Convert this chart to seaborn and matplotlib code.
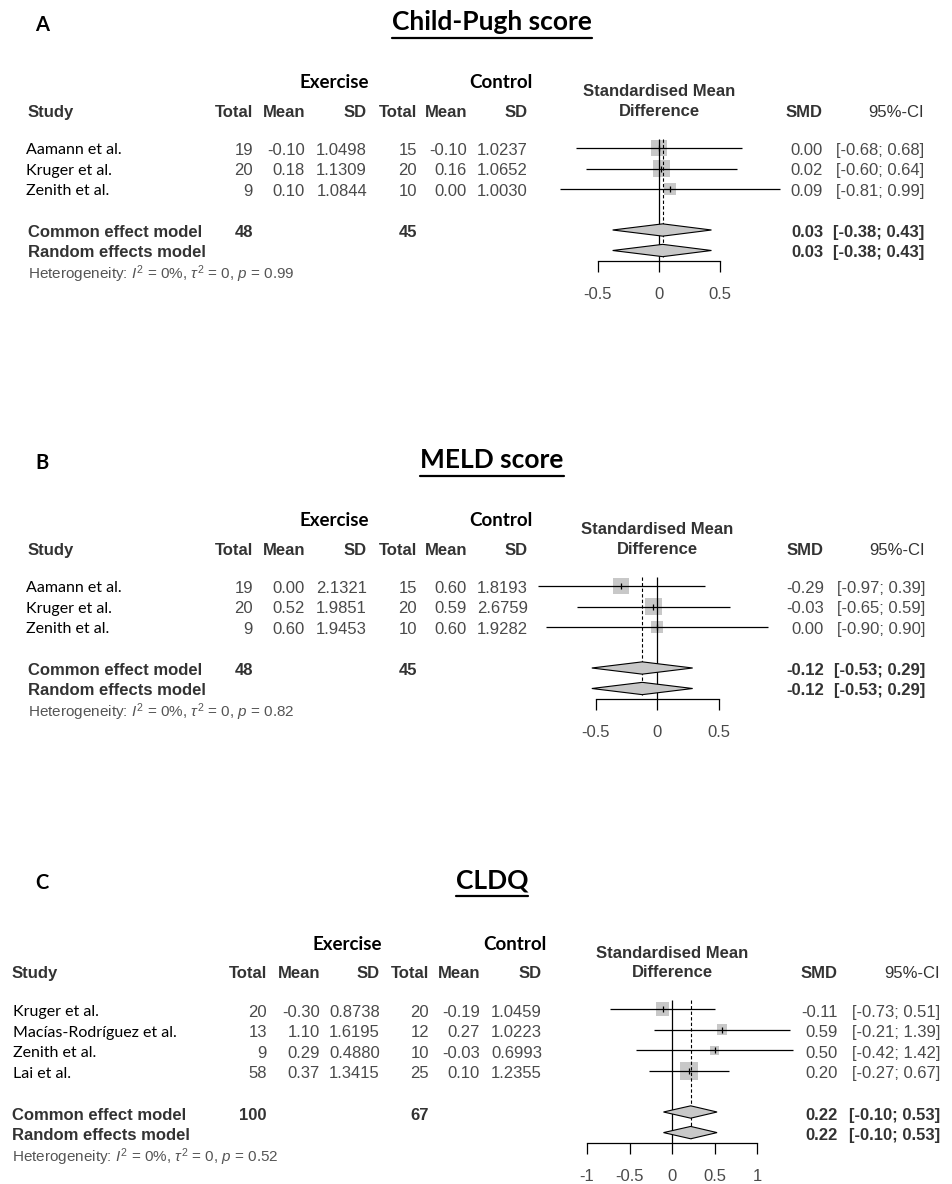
import matplotlib
matplotlib.use('Agg')
import numpy as np
import pandas as pd
import matplotlib.pyplot as plt
import matplotlib.transforms as mtransforms
from matplotlib.lines import Line2D
import seaborn as sns

# ---- data: A Child-Pugh score ----
a_studies = ["Aamann et al.", "Kruger et al.", "Zenith et al."]
a_e_total = [19, 20, 9]
a_e_mean = [-0.10, 0.18, 0.10]
a_e_sd = [1.0498, 1.1309, 1.0844]
a_c_total = [15, 20, 10]
a_c_mean = [-0.10, 0.16, 0.00]
a_c_sd = [1.0237, 1.0652, 1.0030]
a_smd = [0.00, 0.02, 0.09]
a_lo = [-0.68, -0.60, -0.81]
a_hi = [0.68, 0.64, 0.99]
a_pooled = [0.03, -0.38, 0.43]
a_sums = [48, 45]
a_pval = "0.99"

# ---- data: B MELD score ----
b_studies = ["Aamann et al.", "Kruger et al.", "Zenith et al."]
b_e_total = [19, 20, 9]
b_e_mean = [0.00, 0.52, 0.60]
b_e_sd = [2.1321, 1.9851, 1.9453]
b_c_total = [15, 20, 10]
b_c_mean = [0.60, 0.59, 0.60]
b_c_sd = [1.8193, 2.6759, 1.9282]
b_smd = [-0.29, -0.03, 0.00]
b_lo = [-0.97, -0.65, -0.90]
b_hi = [0.39, 0.59, 0.90]
b_pooled = [-0.12, -0.53, 0.29]
b_sums = [48, 45]
b_pval = "0.82"

# ---- data: C CLDQ ----
c_studies = ["Kruger et al.", "Macías-Rodríguez et al.", "Zenith et al.", "Lai et al."]
c_e_total = [20, 13, 9, 58]
c_e_mean = [-0.30, 1.10, 0.29, 0.37]
c_e_sd = [0.8738, 1.6195, 0.4880, 1.3415]
c_c_total = [20, 12, 10, 25]
c_c_mean = [-0.19, 0.27, -0.03, 0.10]
c_c_sd = [1.0459, 1.0223, 0.6993, 1.2355]
c_smd = [-0.11, 0.59, 0.50, 0.20]
c_lo = [-0.73, -0.21, -0.42, -0.27]
c_hi = [0.51, 1.39, 1.42, 0.67]
c_pooled = [0.22, -0.10, 0.53]
c_sums = [100, 67]
c_pval = "0.52"

sns.set_theme(style="white")
plt.rcParams['font.family'] = ['Liberation Sans', 'DejaVu Sans']
plt.rcParams['mathtext.fontset'] = 'custom'
plt.rcParams['mathtext.rm'] = 'Liberation Sans'
plt.rcParams['mathtext.it'] = 'Liberation Sans:italic'

W, H = 952, 1184
fig = plt.figure(figsize=(W / 100, H / 100), dpi=100)
fig.patch.set_facecolor('white')

NUM = '#4a4a4a'
HEAD = '#333333'
BOX = '#c8c8c8'


def draw_panel(letter, title, title_y, studies, e_total, e_mean, e_sd, c_total, c_mean, c_sd,
               smd, lo, hi, pooled, sums, pval, y0, dy, zero, scale, cols, name_x, head_x,
               smd_r, ci_r, ticks, ticklabels, toff):
    n = len(studies)
    rows = np.arange(n)
    common_y, random_y = n + 1, n + 2
    axis_y = n + 2.5

    # forest axes placed in pixel layout
    left_px, right_px = 530, 800
    top_px, bot_px = y0 - 4 * dy, y0 + (n + 5) * dy
    ax = fig.add_axes([left_px / W, 1 - bot_px / H, (right_px - left_px) / W, (bot_px - top_px) / H])
    ax.set_xlim((left_px - zero) / scale, (right_px - zero) / scale)
    ax.set_ylim(n + 5, -4)
    ax.patch.set_alpha(0)
    for s in ['top', 'right', 'left']:
        ax.spines[s].set_visible(False)
    ax.spines['bottom'].set_position(('data', axis_y))
    ax.spines['bottom'].set_bounds(ticks[0], ticks[-1])
    ax.spines['bottom'].set_color('black')
    ax.spines['bottom'].set_linewidth(0.9)
    ax.set_xticks(ticks)
    ax.set_xticklabels(ticklabels)
    ax.set_yticks([])
    ax.tick_params(axis='x', bottom=True, direction='out', length=8, width=0.9, color='black',
                   pad=11, labelsize=12, labelcolor=NUM)

    # study weights (inverse variance from CI)
    se = (np.array(hi) - np.array(lo)) / (2 * 1.96)
    w = 1 / se ** 2
    side_pt = 17.5 * np.sqrt(w / w.max()) * 0.72
    df = pd.DataFrame({'smd': smd, 'row': rows})
    sns.scatterplot(data=df, x='smd', y='row', marker='s', s=side_pt ** 2, color=BOX,
                    linewidth=0, ax=ax, zorder=1, legend=False)
    ax.hlines(rows, lo, hi, color='black', lw=0.9, zorder=2)
    sns.scatterplot(data=df, x='smd', y='row', marker='|', s=22, color='black',
                    linewidth=0.9, ax=ax, zorder=3, legend=False)

    ax.vlines(0, -0.45, axis_y, color='black', lw=0.9, zorder=2)
    ax.vlines(pooled[0], -0.45, random_y + 0.3, color='black', lw=0.8,
              linestyles=(0, (3, 2)), zorder=2)
    for yy in (common_y, random_y):
        ax.fill([pooled[1], pooled[0], pooled[2], pooled[0]], [yy, yy - 0.3, yy, yy + 0.3],
                facecolor=BOX, edgecolor='black', lw=0.8, zorder=4)
    ax.set_xlabel('')
    ax.set_ylabel('')

    tr = mtransforms.blended_transform_factory(fig.transFigure, ax.transData)

    def t(xpx, yy, s, **kw):
        kw.setdefault('va', 'center')
        kw.setdefault('fontsize', 12)
        ax.text(xpx / W, yy + toff, s, transform=tr, clip_on=False, **kw)

    # group headers
    t(cols[2] + 2, -3.3, "Exercise", ha='right', family='Lato', weight='bold', color='black',
      fontsize=13.5)
    t(cols[5] + 4, -3.3, "Control", ha='right', family='Lato', weight='bold', color='black',
      fontsize=13.5)
    # column headers
    t(head_x, -1.85, "Study", ha='left', weight='bold', color=HEAD)
    for xp, lab in zip(cols, ["Total", "Mean", "SD", "Total", "Mean", "SD"]):
        t(xp, -1.85, lab, ha='right', weight='bold', color=HEAD)
    t(zero, -2.85, "Standardised Mean", ha='center', weight='bold', color=HEAD)
    t(zero, -1.9, "Difference", ha='center', weight='bold', color=HEAD)
    t(smd_r, -1.85, "SMD", ha='right', weight='bold', color=HEAD)
    t(ci_r, -1.85, "95%-CI", ha='right', color=HEAD)

    # study rows
    for i in range(n):
        t(name_x, i, studies[i], ha='left', family='Lato', fontsize=11.5, color='black')
        vals = [f"{e_total[i]}", f"{e_mean[i]:.2f}", f"{e_sd[i]:.4f}",
                f"{c_total[i]}", f"{c_mean[i]:.2f}", f"{c_sd[i]:.4f}"]
        for xp, v in zip(cols, vals):
            t(xp, i, v, ha='right', color=NUM)
        t(smd_r, i, f"{smd[i]:.2f}", ha='right', color=NUM)
        t(ci_r, i, f"[{lo[i]:.2f}; {hi[i]:.2f}]", ha='right', color=NUM)

    # pooled rows
    t(head_x, common_y, "Common effect model", ha='left', weight='bold', color=HEAD)
    t(cols[0], common_y, f"{sums[0]}", ha='right', weight='bold', color=HEAD)
    t(cols[3], common_y, f"{sums[1]}", ha='right', weight='bold', color=HEAD)
    t(head_x, random_y, "Random effects model", ha='left', weight='bold', color=HEAD)
    for yy in (common_y, random_y):
        t(smd_r, yy, f"{pooled[0]:.2f}", ha='right', weight='bold', color=HEAD)
        t(ci_r, yy, f"[{pooled[1]:.2f}; {pooled[2]:.2f}]", ha='right', weight='bold', color=HEAD)
    t(head_x, random_y + 1.05,
      r"Heterogeneity: $I^2$ = 0%, $\tau^2$ = 0, $p$ = " + pval,
      ha='left', fontsize=11, color='#555555')

    # panel letter and title
    fig.text(35 / W, 1 - (title_y + 3) / H, letter, family='Lato', weight='bold',
             fontsize=14.5, ha='left', va='center', color='black')
    ttl = fig.text(492 / W, 1 - title_y / H, title, family='Lato', weight='bold',
                   fontsize=19, ha='center', va='center', color='black')
    return ttl


titles = []
titles.append((draw_panel("A", "Child-Pugh score", 22, a_studies, a_e_total, a_e_mean, a_e_sd,
                          a_c_total, a_c_mean, a_c_sd, a_smd, a_lo, a_hi, a_pooled, a_sums, a_pval,
                          148, 20.5, 659, 122, [253, 305, 367, 417, 467, 528], 26, 28, 823, 924,
                          [-0.5, 0, 0.5], ["-0.5", "0", "0.5"], 0.1), 38))
titles.append((draw_panel("B", "MELD score", 460, b_studies, b_e_total, b_e_mean, b_e_sd,
                          b_c_total, b_c_mean, b_c_sd, b_smd, b_lo, b_hi, b_pooled, b_sums, b_pval,
                          586, 20.5, 657, 123, [253, 305, 367, 417, 467, 528], 26, 28, 824, 925,
                          [-0.5, 0, 0.5], ["-0.5", "0", "0.5"], 0.1), 476))
titles.append((draw_panel("C", "CLDQ", 880, c_studies, c_e_total, c_e_mean, c_e_sd,
                          c_c_total, c_c_mean, c_c_sd, c_smd, c_lo, c_hi, c_pooled, c_sums, c_pval,
                          1009, 20.6, 672, 85, [267, 320, 380, 429, 480, 542], 13, 12, 838, 940,
                          [-1, -0.5, 0, 0.5, 1], ["-1", "-0.5", "0", "0.5", "1"], 0.15), 896))

# underline the titles
fig.canvas.draw()
rend = fig.canvas.get_renderer()
for ttl, uy in titles:
    bb = ttl.get_window_extent(rend)
    fig.add_artist(Line2D([bb.x0 / W, bb.x1 / W], [1 - uy / H, 1 - uy / H],
                          transform=fig.transFigure, color='black', lw=1.6))

fig.savefig('out.png', dpi=100)
